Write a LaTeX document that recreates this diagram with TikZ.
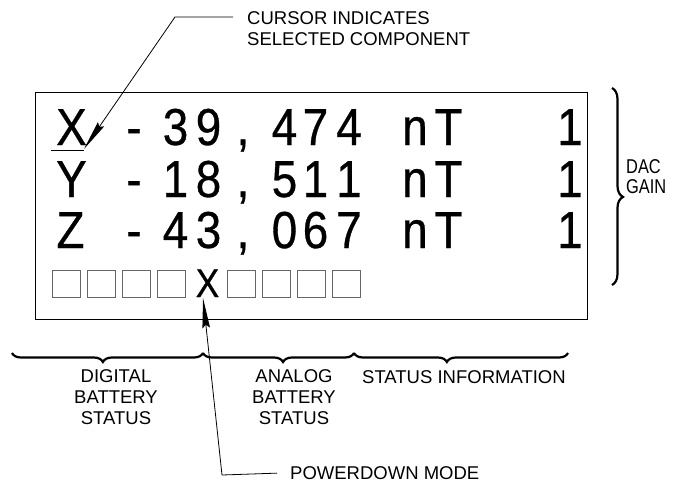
\documentclass[tikz,border=0pt]{standalone}
\usepackage{fontspec}
\setmainfont{Liberation Sans}
\newfontfamily\lcdfont[FakeStretch=0.88,FakeBold=0.6]{Liberation Sans}
\newfontfamily\narrowfont[FakeStretch=0.82]{Liberation Sans}
\usetikzlibrary{decorations.pathreplacing,arrows.meta}
\begin{document}
\begin{tikzpicture}[x=1pt,y=-1pt,
  lcd/.style={font=\lcdfont\fontsize{52}{52}\selectfont, inner sep=0pt, anchor=base},
  lbl/.style={font=\fontsize{18.5}{21}\selectfont, inner sep=0pt, align=center},
  leader/.style={line width=0.8pt},
  tipstyle/.style={-{Stealth[length=30pt,width=7.5pt,inset=3pt]}},
  cell/.style={draw=black!60, line width=0.8pt, minimum width=28pt, minimum height=27pt, inner sep=0pt, anchor=north west},
  bracestyle/.style={decorate, line width=2.2pt},
]
\useasboundingbox (0,0) rectangle (673,483);
\fill[white] (0,0) rectangle (673,483);

% display frame
\node[draw, line width=1.2pt, minimum width=552pt, minimum height=227pt, anchor=north west, inner sep=0pt] (lcdbox) at (35,92) {};

% rows of characters
\foreach \c/\x [count=\i] in {X/71.5, -/134, 3/175.5, 9/208.5, {,}/243, 4/284.5, 7/315.5, 4/349, n/415, T/448.5, 1/570}
  \node[lcd] (ra\i) at (\x,145) {\c};
\foreach \c/\x [count=\i] in {Y/71.5, -/134, 1/175.5, 8/208.5, {,}/243, 5/284.5, 1/315.5, 1/349, n/415, T/448.5, 1/570}
  \node[lcd] (rb\i) at (\x,197) {\c};
\foreach \c/\x [count=\i] in {Z/70.5, -/134, 4/175.5, 3/208.5, {,}/243, 0/284.5, 6/315.5, 7/349, n/415, T/448.5, 1/570}
  \node[lcd] (rc\i) at (\x,248) {\c};

% status cells
\foreach \i in {0,1,2,3,5,6,7,8}
  \node[cell] (cell\i) at (51.5+35*\i,270) {};
\node[font=\lcdfont\fontsize{40}{40}\selectfont, inner sep=0pt, anchor=base] (px) at (207.5,297) {X};

% cursor underline
\draw[leader] (51,150) -- (84,150);

% cursor leader
\node[lbl, align=left, anchor=north west] (cur) at (247,11.5) {CURSOR INDICATES\\SELECTED COMPONENT};
\coordinate (curstart) at (233,17);
\coordinate (curknee) at (175,17);
\coordinate (curtip) at (84,149);
\draw[leader, tipstyle] (curstart) -- (curknee) -- (curtip);

% powerdown leader
\node[lbl, anchor=base west] (pd) at (290,479.5) {POWERDOWN MODE};
\coordinate (pdknee) at (222,475);
\coordinate (pdtip) at (203,298);
\draw[leader, tipstyle] ([xshift=-13pt]pd.west) -- (pdknee) -- (pdtip);

% DAC gain brace
\draw[bracestyle, decoration={brace, amplitude=11pt, aspect=0.553}] (612,88) -- (612,285);
\node[font=\narrowfont\fontsize{20}{19.5}\selectfont, align=left, anchor=north west, inner sep=0pt] (dac) at (626,159.5) {DAC\\GAIN};

% bottom braces
\draw[bracestyle, decoration={brace, mirror, amplitude=9pt, aspect=0.476}] (12,353) -- (203,353);
\draw[bracestyle, decoration={brace, mirror, amplitude=9pt, aspect=0.53}] (203,353) -- (354,353);
\draw[bracestyle, decoration={brace, mirror, amplitude=9pt, aspect=0.434}] (354,353) -- (568,353);

\node[lbl, anchor=north] (dig) at (116,369.5) {DIGITAL\\BATTERY\\STATUS};
\node[lbl, anchor=north] (ana) at (294,369.5) {ANALOG\\BATTERY\\STATUS};
\node[lbl, anchor=base west] (stat) at (362,383) {STATUS INFORMATION};
\end{tikzpicture}
\end{document}
